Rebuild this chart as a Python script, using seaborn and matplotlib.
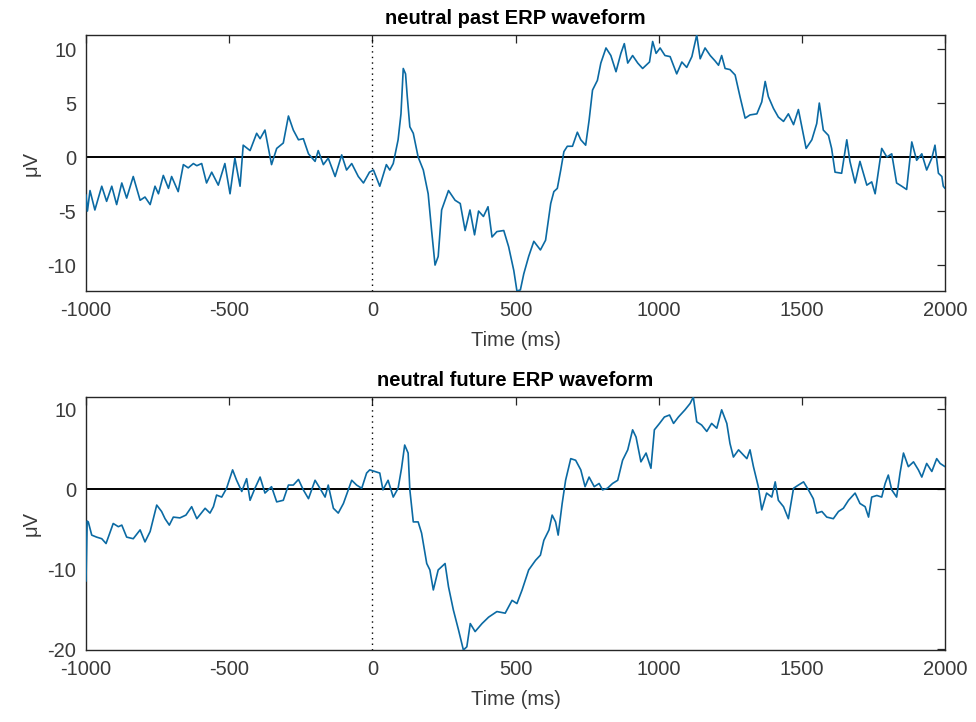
import numpy as np
import pandas as pd
import matplotlib
matplotlib.use("Agg")
import matplotlib.pyplot as plt
import seaborn as sns

# Grand-average ERP waveform, neutral past condition (time in ms, amplitude in microvolts)
past_time = [
    -1000, -995, -986, -969, -945, -928, -910, -893, -875, -858, -835, -811, -794, -776,
    -759, -747, -730, -712, -701, -678, -660, -643, -625, -613, -596, -579, -561, -538,
    -515, -497, -480, -462, -451, -427, -404, -392, -375, -352, -334, -311, -293, -276,
    -258, -241, -223, -200, -189, -171, -154, -130, -107, -90, -72, -49, -31, -10,
    4, 26, 49, 61, 73, 90, 100, 108, 116, 122, 131, 143, 160, 178, 195, 207, 219, 230,
    242, 266, 289, 307, 324, 341, 357, 371, 388, 404, 418, 435, 459, 476, 494, 505, 517,
    529, 546, 564, 587, 605, 623, 634, 646, 658, 669, 681, 699, 716, 728, 745, 757, 769,
    786, 798, 816, 833, 851, 868, 880, 892, 909, 927, 944, 968, 979, 991,
    1005, 1022, 1040, 1063, 1081, 1098, 1116, 1133, 1145, 1162, 1180, 1197, 1209, 1220,
    1232, 1249, 1267, 1284, 1302, 1319, 1343, 1360, 1372, 1383, 1401, 1418, 1436, 1453,
    1471, 1488, 1500, 1515, 1535, 1552, 1561, 1575, 1593, 1604, 1616, 1639, 1657, 1668,
    1686, 1703, 1727, 1744, 1756, 1779, 1797, 1814, 1831, 1849, 1866, 1884, 1901, 1919,
    1936, 1954, 1965, 1977, 1989, 1994, 2000,
]
past_uv = [
    -3.5, -5.0, -3.1, -4.9, -2.7, -4.1, -2.7, -4.4, -2.4, -3.8, -1.8, -4.0, -3.7, -4.4,
    -2.7, -3.4, -1.7, -2.9, -1.8, -3.2, -0.7, -1.0, -0.6, -0.8, -0.6, -2.4, -1.4, -2.6,
    -0.6, -3.4, -0.1, -2.7, 1.1, 0.6, 2.2, 1.7, 2.5, -0.7, 0.8, 1.3, 3.8, 2.5,
    1.6, 1.7, 0.3, -0.4, 0.6, -0.7, -0.1, -1.8, 0.2, -1.2, -0.6, -1.8, -2.4, -1.4,
    -1.2, -2.7, -0.7, -1.2, -0.6, 1.6, 4.0, 8.2, 7.7, 5.6, 2.8, 2.2, 0.0, -1.2, -3.4, -6.8, -10.0, -9.2,
    -4.9, -3.1, -4.0, -4.3, -6.8, -4.9, -7.2, -5.0, -5.5, -4.6, -7.4, -6.9, -6.8, -8.3, -10.5, -12.4, -12.3,
    -10.8, -9.2, -7.8, -8.6, -7.7, -4.3, -3.2, -2.9, -1.2, 0.5, 1.0, 1.0, 2.3, 1.6, 1.1, 3.4, 6.2,
    7.1, 8.7, 10.1, 9.4, 7.9, 9.6, 10.5, 8.7, 9.4, 8.7, 8.2, 8.8, 10.7, 9.6,
    10.1, 9.4, 9.3, 7.7, 8.8, 8.3, 9.3, 11.3, 9.1, 10.1, 9.4, 8.9, 8.5, 9.4,
    8.2, 8.1, 7.6, 5.6, 3.6, 3.9, 4.0, 5.1, 7.0, 5.6, 4.5, 3.7, 3.3, 4.0,
    3.0, 4.4, 2.8, 0.8, 1.6, 3.1, 5.0, 2.5, 2.0, 0.8, -1.4, -1.5, 1.6, -0.4,
    -2.4, -0.4, -2.6, -2.3, -3.4, 0.8, 0.0, 0.3, -2.4, -2.7, -3.0, 1.4, -0.3, 0.3,
    -1.2, -0.1, 1.1, -1.5, -1.8, -2.7, -2.9,
]

# Grand-average ERP waveform, neutral future condition
future_time = [
    -1000, -996, -992, -980, -963, -945, -930, -905, -887, -875, -858, -835, -811, -794,
    -776, -753, -736, -724, -709, -695, -672, -651, -631, -613, -584, -567, -555, -544,
    -526, -509, -488, -474, -456, -439, -427, -410, -392, -375, -352, -334, -311, -293,
    -276, -258, -241, -223, -200, -183, -165, -154, -136, -119, -101, -84, -72, -55,
    -37, -20, -9, 8, 26, 37, 55, 73, 90, 102, 113, 125, 131, 143, 160, 172, 190, 201,
    213, 230, 254, 266, 283, 301, 318, 330, 342, 359, 383, 406, 435, 464, 488, 505, 523,
    546, 570, 587, 599, 617, 628, 640, 649, 663, 675, 693, 710, 728, 743, 757, 775, 792,
    804, 821, 839, 857, 874, 892, 909, 921, 938, 956, 973, 985, 1003, 1020, 1038,
    1052, 1069, 1092, 1110, 1121, 1133, 1150, 1168, 1185, 1203, 1220, 1238, 1249, 1261,
    1279, 1296, 1308, 1319, 1331, 1348, 1360, 1377, 1395, 1407, 1418, 1436, 1453, 1471,
    1488, 1506, 1523, 1540, 1552, 1570, 1587, 1610, 1628, 1645, 1663, 1686, 1703, 1721,
    1733, 1744, 1762, 1779, 1791, 1802, 1814, 1831, 1843, 1855, 1872, 1890, 1907, 1919,
    1936, 1954, 1971, 1983, 2000,
]
future_uv = [
    -11.5, -4.0, -4.1, -5.75, -6.0, -6.2, -6.8, -4.3, -4.7, -4.5, -6.0, -6.2, -5.1, -6.6,
    -5.3, -2.0, -2.8, -3.7, -4.5, -3.5, -3.6, -3.25, -2.2, -3.7, -2.4, -3.0, -2.2, -0.75,
    -1.0, 0.1, 2.4, 1.1, -0.3, 1.3, -1.4, 0.1, 1.5, -0.5, 0.3, -1.6, -1.4, 0.5,
    0.5, 1.2, -0.1, -1.2, 1.1, 0.1, -1.0, 0.5, -2.4, -3.0, -1.8, -0.1, 1.1, 0.5,
    0.1, 2.0, 2.4, 2.2, 2.0, -0.1, 1.1, -1.0, 0.1, 2.6, 5.5, 4.5, -0.1, -4.1, -4.1, -5.5, -9.3, -10.1,
    -12.6, -10.1, -9.3, -12.2, -15.1, -17.6, -20.1, -19.7, -16.8, -17.8, -16.8, -16.0, -15.3, -15.5, -13.9, -14.3, -12.6,
    -10.1, -8.9, -8.25, -6.4, -5.1, -3.25, -4.1, -5.75, -1.8, 1.1, 3.8, 3.6, 2.4, 0.3, 1.5, 0.3, 0.7,
    -0.1, 0.1, 0.7, 1.1, 3.6, 4.9, 7.4, 6.5, 3.4, 4.5, 2.6, 7.4, 8.2, 9.0, 9.25,
    8.2, 9.0, 9.9, 10.7, 11.5, 8.4, 8.0, 7.2, 8.2, 7.6, 9.9, 8.2, 5.7, 4.0,
    4.9, 4.25, 3.8, 4.9, 2.8, 0.3, -2.6, -0.5, -1.0, 0.9, -1.4, -2.2, -3.7, 0.1,
    0.5, 0.9, -0.1, -1.2, -3.0, -2.8, -3.5, -3.7, -2.8, -2.4, -1.4, -0.5, -1.8, -2.2,
    -3.5, -1.0, -0.8, -1.0, 0.7, 1.75, -0.1, -1.0, 2.0, 4.5, 2.8, 3.4, 2.4, 1.5,
    3.2, 2.2, 3.8, 3.2, 2.8,
]

panel_titles = ["neutral past ERP waveform", "neutral future ERP waveform"]
panel_yticks = [[-10, -5, 0, 5, 10], [-20, -10, 0, 10]]
x_ticks = [-1000, -500, 0, 500, 1000, 1500, 2000]

sns.set_style("white")
plt.rcParams["font.family"] = ["Liberation Sans", "DejaVu Sans"]

LINE_BLUE = "#0b6aa3"
AX_GRAY = "#262626"
TEXT_GRAY = "#3a3a3a"

fig = plt.figure(figsize=(9.76, 7.22), dpi=100)
axes = [
    fig.add_axes([86 / 976, 1 - 291 / 722, 859 / 976, 256 / 722]),
    fig.add_axes([86 / 976, 1 - 650 / 722, 859 / 976, 253 / 722]),
]

panels = [
    pd.DataFrame({"time": past_time, "uv": past_uv}),
    pd.DataFrame({"time": future_time, "uv": future_uv}),
]

for ax, df, title, yt in zip(axes, panels, panel_titles, panel_yticks):
    sns.lineplot(data=df, x="time", y="uv", ax=ax, color=LINE_BLUE,
                 linewidth=1.2, estimator=None, sort=False, zorder=3)
    ax.axhline(0, color="black", linewidth=1.4, zorder=2)
    ax.axvline(0, color="black", linewidth=1.0, linestyle=(0, (1, 3)), zorder=2)

    ax.set_xlim(-1000, 2000)
    ax.set_ylim(df["uv"].min(), df["uv"].max())
    ax.set_xticks(x_ticks)
    ax.set_xticklabels([str(v) for v in x_ticks])
    ax.set_yticks(yt)
    ax.set_yticklabels([str(v) for v in yt])

    ax.tick_params(direction="in", length=6, width=0.9, colors=AX_GRAY,
                   labelsize=14.5, labelcolor=TEXT_GRAY,
                   top=True, right=True)
    ax.tick_params(axis="x", pad=7)
    ax.tick_params(axis="y", pad=7)
    for sp in ax.spines.values():
        sp.set_visible(True)
        sp.set_color(AX_GRAY)
        sp.set_linewidth(1.0)

    ax.set_xlabel("Time (ms)", fontsize=14.5, color=TEXT_GRAY, labelpad=8)
    ax.set_ylabel("\u03bcV", fontsize=14.5, color=TEXT_GRAY, labelpad=5)
    ax.set_title(title, fontsize=14.5, fontweight="bold", color="black", pad=8)
    ax.set_facecolor("white")

fig.savefig("out.png", dpi=100, facecolor="white")
